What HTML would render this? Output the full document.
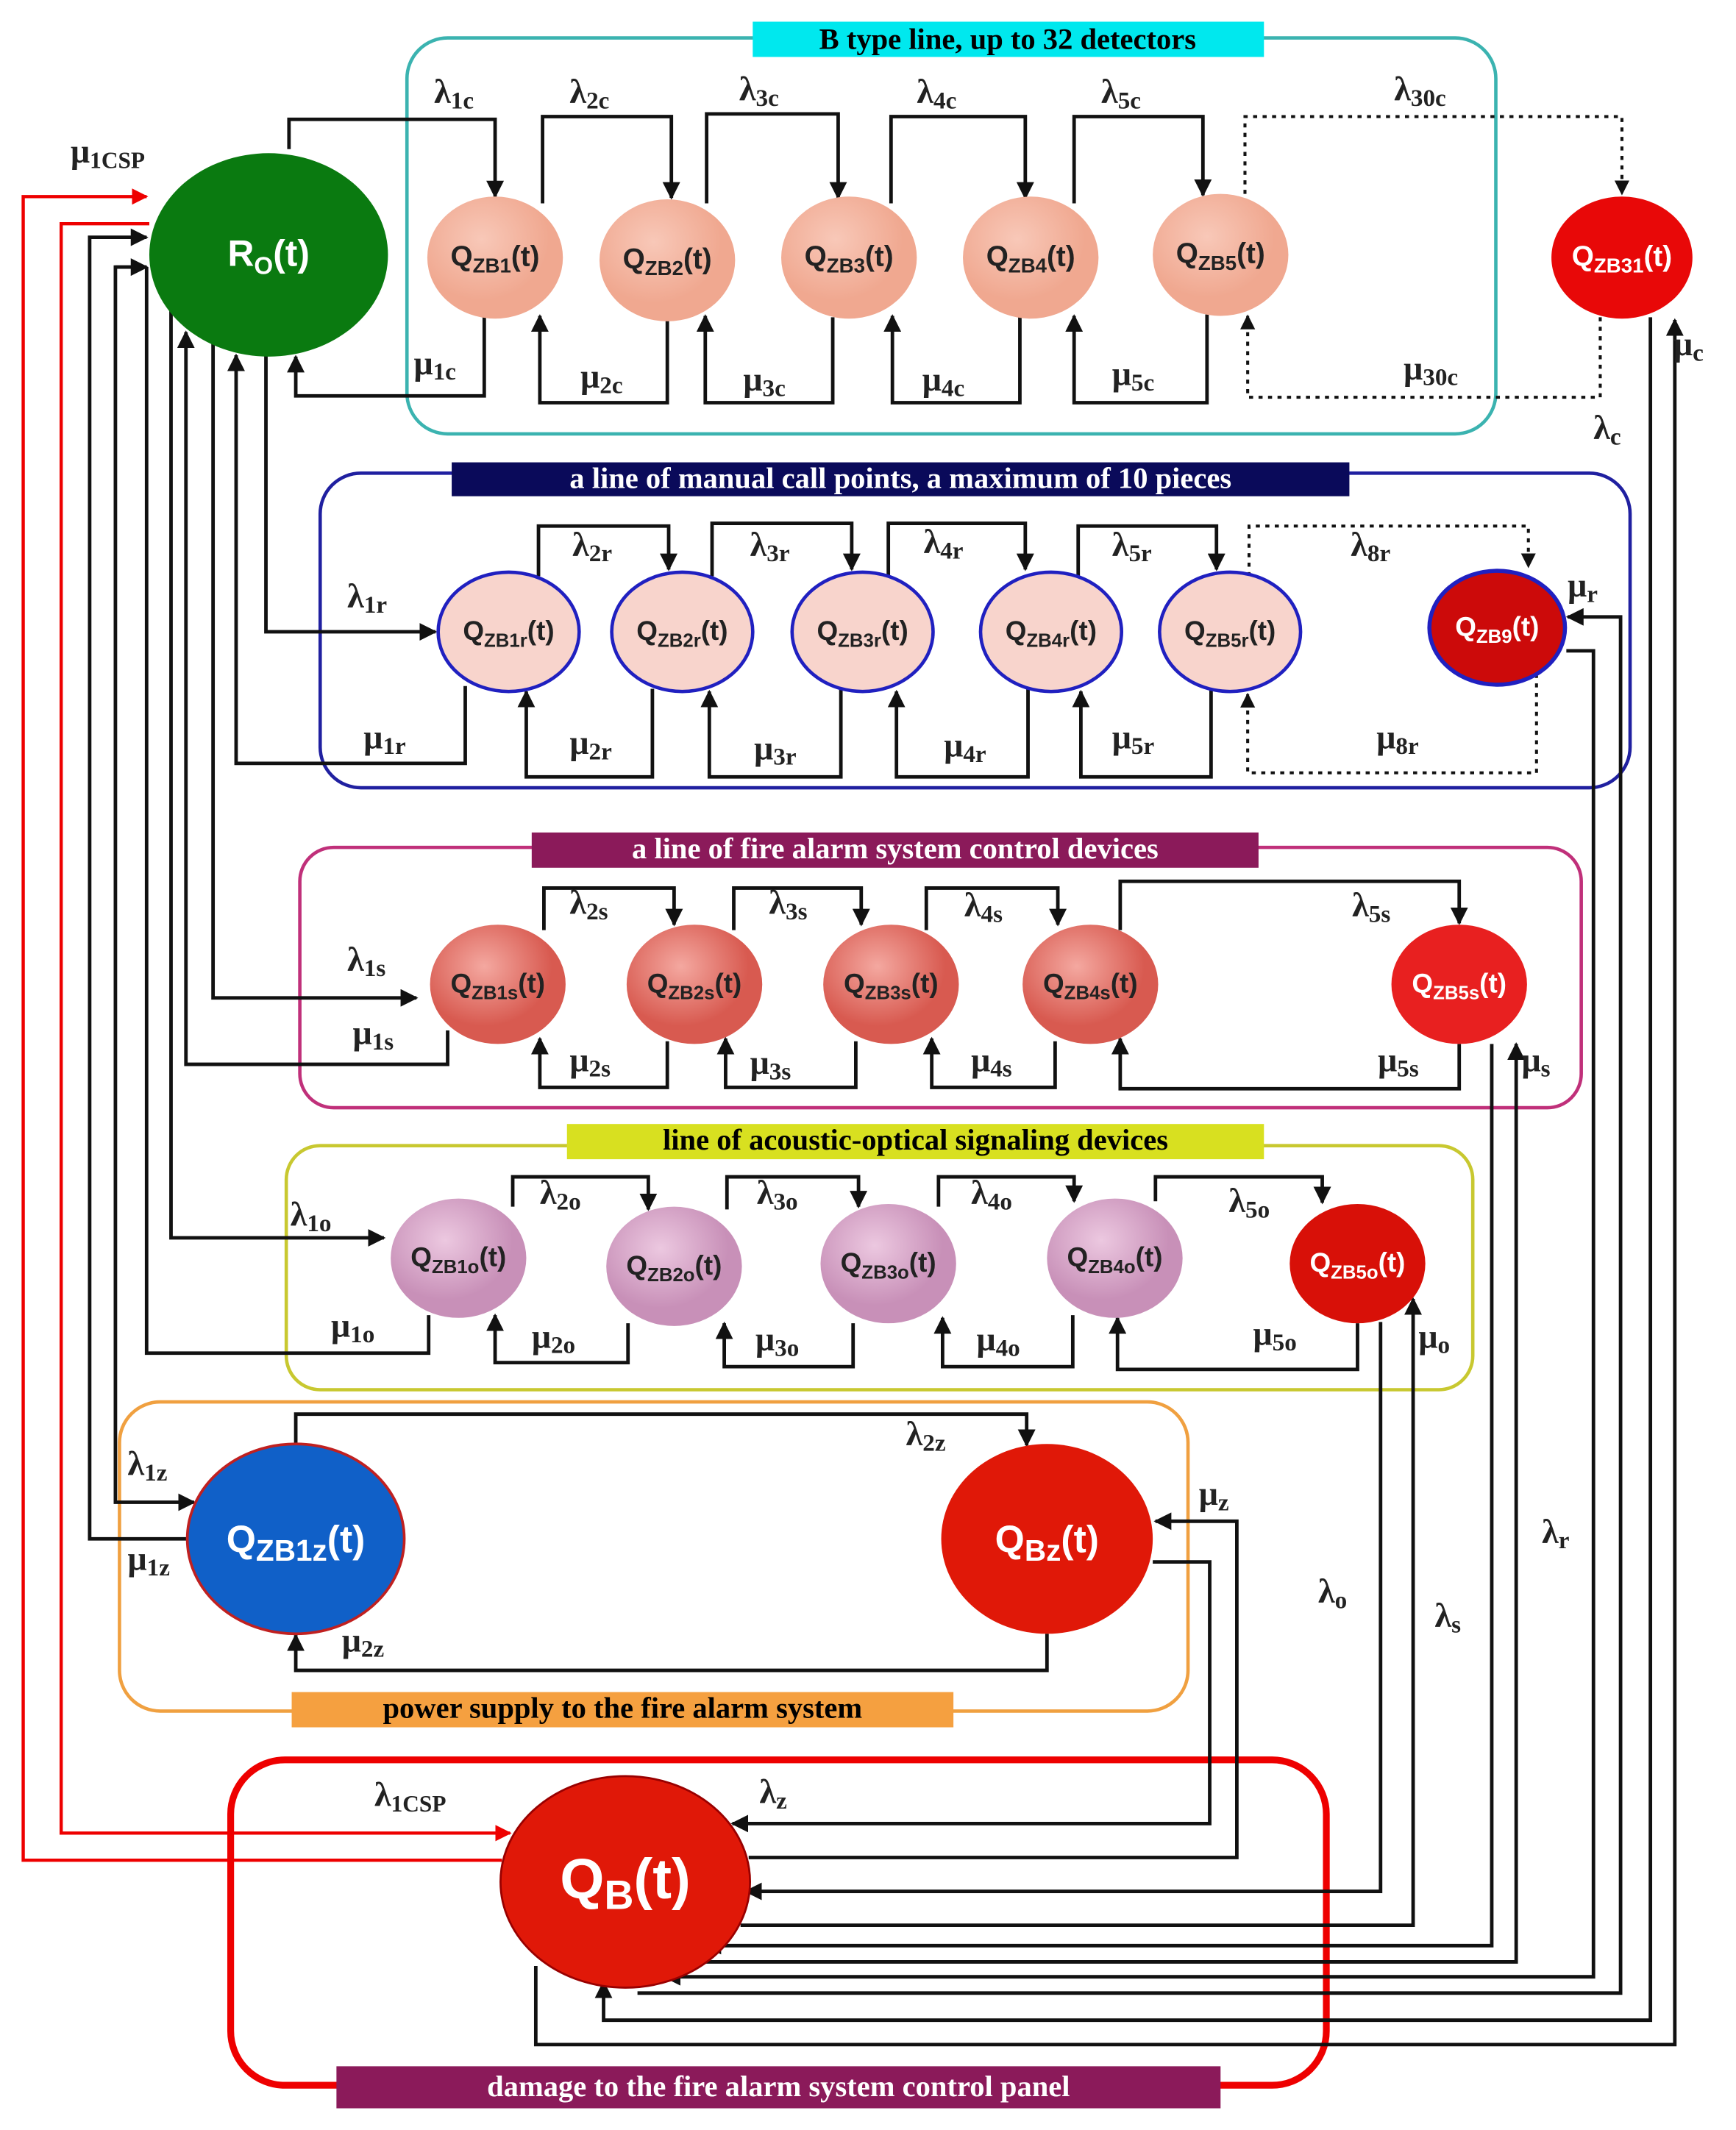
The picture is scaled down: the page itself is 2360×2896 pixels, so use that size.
<!DOCTYPE html>
<html><head><meta charset="utf-8"><style>
html,body{margin:0;padding:0;background:#fff}
svg{display:block}
.l{font-family:"Liberation Serif",serif;font-weight:bold;font-size:25px;fill:#222}
.n{font-family:"Liberation Sans",sans-serif;font-weight:bold;fill:#222}
.w{fill:#fff}
.t{font-family:"Liberation Serif",serif;font-weight:bold;font-size:22px}
.c{fill:none;stroke:#111;stroke-width:2.6}
.d{fill:none;stroke:#111;stroke-width:2.2;stroke-dasharray:3 4}
.r{fill:none;stroke:#e00;stroke-width:2.4}
</style></head><body>
<svg width="2360" height="2896" viewBox="0 0 1280 1571" xmlns="http://www.w3.org/2000/svg">
<defs>
<marker id="a" viewBox="0 0 10 10" refX="9" refY="5" markerWidth="5" markerHeight="5" orient="auto"><path d="M0,0L10,5L0,10z" fill="#111"/></marker>
<marker id="ar" viewBox="0 0 10 10" refX="9" refY="5" markerWidth="5" markerHeight="5" orient="auto"><path d="M0,0L10,5L0,10z" fill="#e00"/></marker>
<radialGradient id="gp" cx="40%" cy="35%"><stop offset="0" stop-color="#f8c8b8"/><stop offset="1" stop-color="#f0a890"/></radialGradient>
<radialGradient id="gs" cx="40%" cy="35%"><stop offset="0" stop-color="#f4a8a0"/><stop offset="1" stop-color="#d85a50"/></radialGradient>
<radialGradient id="go" cx="40%" cy="35%"><stop offset="0" stop-color="#ecc8e0"/><stop offset="1" stop-color="#c890b8"/></radialGradient>
</defs>

<rect x="300" y="28" width="803" height="292" rx="30" fill="none" stroke="#3bb3b0" stroke-width="2.5"/>
<rect x="236" y="349" width="966" height="232" rx="30" fill="none" stroke="#2020a0" stroke-width="2.5"/>
<rect x="221" y="625" width="945" height="192" rx="25" fill="none" stroke="#c0307a" stroke-width="2.5"/>
<rect x="211" y="845" width="875" height="180" rx="25" fill="none" stroke="#c8c830" stroke-width="2.5"/>
<rect x="88" y="1034" width="788" height="228" rx="30" fill="none" stroke="#f0a040" stroke-width="2.5"/>
<rect x="170" y="1298" width="808" height="240" rx="40" fill="none" stroke="#e00" stroke-width="5"/>

<rect x="555" y="16" width="377" height="26" fill="#00e8ee"/><text x="743" y="36" class="t" text-anchor="middle">B type line, up to 32 detectors</text>
<rect x="333" y="341" width="662" height="25" fill="#0a0a5a"/><text x="664" y="360" class="t w" text-anchor="middle">a line of manual call points, a maximum of 10 pieces</text>
<rect x="392" y="614" width="536" height="26" fill="#8b1a5a"/><text x="660" y="633" class="t w" text-anchor="middle">a line of fire alarm system control devices</text>
<rect x="418" y="829" width="514" height="26" fill="#d8e020"/><text x="675" y="848" class="t" text-anchor="middle">line of acoustic-optical signaling devices</text>
<rect x="215" y="1248" width="488" height="26" fill="#f5a040"/><text x="459" y="1267" class="t" text-anchor="middle">power supply to the fire alarm system</text>
<rect x="248" y="1524" width="652" height="31" fill="#8b1a5a"/><text x="574" y="1546" class="t w" text-anchor="middle">damage to the fire alarm system control panel</text>

<polyline class="r" points="110,165 45,165 45,1352 376,1352" marker-end="url(#ar)"/>
<polyline class="r" points="370,1372 17,1372 17,145 108,145" marker-end="url(#ar)"/>

<polyline class="c" points="213,110 213,88 365,88 365,145" marker-end="url(#a)"/>
<polyline class="c" points="400,150 400,86 495,86 495,146" marker-end="url(#a)"/>
<polyline class="c" points="521,150 521,84 618,84 618,146" marker-end="url(#a)"/>
<polyline class="c" points="657,150 657,86 756,86 756,146" marker-end="url(#a)"/>
<polyline class="c" points="792,150 792,86 887,86 887,144" marker-end="url(#a)"/>
<polyline class="d" points="918,150 918,86 1196,86 1196,143" marker-end="url(#a)"/>
<polyline class="c" points="357,234 357,292 218,292 218,263" marker-end="url(#a)"/>
<polyline class="c" points="492,236 492,297 398,297 398,233" marker-end="url(#a)"/>
<polyline class="c" points="614,234 614,297 520,297 520,233" marker-end="url(#a)"/>
<polyline class="c" points="752,234 752,297 658,297 658,233" marker-end="url(#a)"/>
<polyline class="c" points="890,232 890,297 792,297 792,233" marker-end="url(#a)"/>
<polyline class="d" points="1180,234 1180,293 920,293 920,233" marker-end="url(#a)"/>

<polyline class="c" points="196,262 196,466 321,466" marker-end="url(#a)"/>
<polyline class="c" points="397,425 397,388 493,388 493,420" marker-end="url(#a)"/>
<polyline class="c" points="525,425 525,386 628,386 628,420" marker-end="url(#a)"/>
<polyline class="c" points="655,425 655,386 756,386 756,420" marker-end="url(#a)"/>
<polyline class="c" points="795,425 795,388 897,388 897,420" marker-end="url(#a)"/>
<polyline class="d" points="921,425 921,388 1127,388 1127,418" marker-end="url(#a)"/>
<polyline class="c" points="343,506 343,563 174,563 174,262" marker-end="url(#a)"/>
<polyline class="c" points="481,508 481,573 388,573 388,510" marker-end="url(#a)"/>
<polyline class="c" points="620,508 620,573 523,573 523,510" marker-end="url(#a)"/>
<polyline class="c" points="758,508 758,573 661,573 661,510" marker-end="url(#a)"/>
<polyline class="c" points="893,508 893,573 797,573 797,510" marker-end="url(#a)"/>
<polyline class="d" points="1133,497 1133,570 920,570 920,512" marker-end="url(#a)"/>

<polyline class="c" points="157,250 157,736 307,736" marker-end="url(#a)"/>
<polyline class="c" points="330,760 330,785 137,785 137,245" marker-end="url(#a)"/>
<polyline class="c" points="401,686 401,655 497,655 497,682" marker-end="url(#a)"/>
<polyline class="c" points="541,686 541,655 635,655 635,682" marker-end="url(#a)"/>
<polyline class="c" points="683,686 683,655 780,655 780,682" marker-end="url(#a)"/>
<polyline class="c" points="826,686 826,650 1076,650 1076,681" marker-end="url(#a)"/>
<polyline class="c" points="492,768 492,802 398,802 398,766" marker-end="url(#a)"/>
<polyline class="c" points="631,768 631,802 535,802 535,766" marker-end="url(#a)"/>
<polyline class="c" points="778,768 778,802 687,802 687,766" marker-end="url(#a)"/>
<polyline class="c" points="1076,770 1076,803 826,803 826,766" marker-end="url(#a)"/>

<polyline class="c" points="126,200 126,913 283,913" marker-end="url(#a)"/>
<polyline class="c" points="316,970 316,998 108,998 108,197" />
<polyline class="c" points="378,890 378,868 478,868 478,892" marker-end="url(#a)"/>
<polyline class="c" points="536,892 536,868 633,868 633,890" marker-end="url(#a)"/>
<polyline class="c" points="692,890 692,868 792,868 792,886" marker-end="url(#a)"/>
<polyline class="c" points="852,886 852,868 975,868 975,887" marker-end="url(#a)"/>
<polyline class="c" points="463,976 463,1005 365,1005 365,970" marker-end="url(#a)"/>
<polyline class="c" points="629,976 629,1008 534,1008 534,976" marker-end="url(#a)"/>
<polyline class="c" points="791,970 791,1008 695,1008 695,972" marker-end="url(#a)"/>
<polyline class="c" points="1001,976 1001,1010 824,1010 824,972" marker-end="url(#a)"/>

<polyline class="c" points="108,197 85,197 85,1108 143,1108" marker-end="url(#a)"/>
<polyline class="c" points="140,1135 66,1135 66,175 108,175" marker-end="url(#a)"/>
<polyline class="c" points="85,197 108,197" marker-end="url(#a)"/>
<polyline class="c" points="218,1066 218,1043 757,1043 757,1066" marker-end="url(#a)"/>
<polyline class="c" points="772,1205 772,1232 218,1232 218,1206" marker-end="url(#a)"/>

<polyline class="c" points="850,1152 892,1152 892,1345 540,1345" marker-end="url(#a)"/>
<polyline class="c" points="552,1370 912,1370 912,1122 852,1122" marker-end="url(#a)"/>
<polyline class="c" points="1018,975 1018,1395 550,1395" marker-end="url(#a)"/>
<polyline class="c" points="546,1420 1042,1420 1042,958" marker-end="url(#a)"/>
<polyline class="c" points="1100,770 1100,1435 520,1435" marker-end="url(#a)"/>
<polyline class="c" points="505,1447 1118,1447 1118,770" marker-end="url(#a)"/>
<polyline class="c" points="1155,480 1175,480 1175,1458 490,1458" marker-end="url(#a)"/>
<polyline class="c" points="470,1470 1195,1470 1195,455 1156,455" marker-end="url(#a)"/>
<polyline class="c" points="1217,234 1217,1490 445,1490 445,1462" marker-end="url(#a)"/>
<polyline class="c" points="395,1450 395,1508 1235,1508 1235,236" marker-end="url(#a)"/>

<ellipse cx="198" cy="188" rx="88" ry="75" fill="#0a7a10"/>
<text x="198" y="196" class="n w" style="font-size:27px" text-anchor="middle">R<tspan style="font-size:18px" dy="6">O</tspan><tspan dy="-6">(t)</tspan></text>

<g fill="url(#gp)">
<ellipse cx="365" cy="190" rx="50" ry="45"/><ellipse cx="492" cy="192" rx="50" ry="45"/><ellipse cx="626" cy="190" rx="50" ry="45"/><ellipse cx="760" cy="190" rx="50" ry="45"/><ellipse cx="900" cy="188" rx="50" ry="45"/>
</g>
<ellipse cx="1196" cy="190" rx="52" ry="45" fill="#e80808"/>
<g class="n" style="font-size:21px" text-anchor="middle">
<text x="365" y="196">Q<tspan style="font-size:15px" dy="5">ZB1</tspan><tspan dy="-5">(t)</tspan></text>
<text x="492" y="198">Q<tspan style="font-size:15px" dy="5">ZB2</tspan><tspan dy="-5">(t)</tspan></text>
<text x="626" y="196">Q<tspan style="font-size:15px" dy="5">ZB3</tspan><tspan dy="-5">(t)</tspan></text>
<text x="760" y="196">Q<tspan style="font-size:15px" dy="5">ZB4</tspan><tspan dy="-5">(t)</tspan></text>
<text x="900" y="194">Q<tspan style="font-size:15px" dy="5">ZB5</tspan><tspan dy="-5">(t)</tspan></text>
<text x="1196" y="196" class="w">Q<tspan style="font-size:15px" dy="5">ZB31</tspan><tspan dy="-5">(t)</tspan></text>
</g>

<g fill="#f8d4cc" stroke="#2020c0" stroke-width="2.5">
<ellipse cx="375" cy="466" rx="52" ry="44"/><ellipse cx="503" cy="466" rx="52" ry="44"/><ellipse cx="636" cy="466" rx="52" ry="44"/><ellipse cx="775" cy="466" rx="52" ry="44"/><ellipse cx="907" cy="466" rx="52" ry="44"/>
</g>
<ellipse cx="1104" cy="463" rx="50" ry="42" fill="#cc0a0a" stroke="#2020c0" stroke-width="3"/>
<g class="n" style="font-size:20px" text-anchor="middle">
<text x="375" y="472">Q<tspan style="font-size:14px" dy="5">ZB1r</tspan><tspan dy="-5">(t)</tspan></text>
<text x="503" y="472">Q<tspan style="font-size:14px" dy="5">ZB2r</tspan><tspan dy="-5">(t)</tspan></text>
<text x="636" y="472">Q<tspan style="font-size:14px" dy="5">ZB3r</tspan><tspan dy="-5">(t)</tspan></text>
<text x="775" y="472">Q<tspan style="font-size:14px" dy="5">ZB4r</tspan><tspan dy="-5">(t)</tspan></text>
<text x="907" y="472">Q<tspan style="font-size:14px" dy="5">ZB5r</tspan><tspan dy="-5">(t)</tspan></text>
<text x="1104" y="469" class="w">Q<tspan style="font-size:14px" dy="5">ZB9</tspan><tspan dy="-5">(t)</tspan></text>
</g>

<g fill="url(#gs)">
<ellipse cx="367" cy="726" rx="50" ry="44"/><ellipse cx="512" cy="726" rx="50" ry="44"/><ellipse cx="657" cy="726" rx="50" ry="44"/><ellipse cx="804" cy="726" rx="50" ry="44"/>
</g>
<ellipse cx="1076" cy="726" rx="50" ry="44" fill="#e82020"/>
<g class="n" style="font-size:20px" text-anchor="middle">
<text x="367" y="732">Q<tspan style="font-size:14px" dy="5">ZB1s</tspan><tspan dy="-5">(t)</tspan></text>
<text x="512" y="732">Q<tspan style="font-size:14px" dy="5">ZB2s</tspan><tspan dy="-5">(t)</tspan></text>
<text x="657" y="732">Q<tspan style="font-size:14px" dy="5">ZB3s</tspan><tspan dy="-5">(t)</tspan></text>
<text x="804" y="732">Q<tspan style="font-size:14px" dy="5">ZB4s</tspan><tspan dy="-5">(t)</tspan></text>
<text x="1076" y="732" class="w">Q<tspan style="font-size:14px" dy="5">ZB5s</tspan><tspan dy="-5">(t)</tspan></text>
</g>

<g fill="url(#go)">
<ellipse cx="338" cy="928" rx="50" ry="44"/><ellipse cx="497" cy="934" rx="50" ry="44"/><ellipse cx="655" cy="932" rx="50" ry="44"/><ellipse cx="822" cy="928" rx="50" ry="44"/>
</g>
<ellipse cx="1001" cy="932" rx="50" ry="44" fill="#d81008"/>
<g class="n" style="font-size:20px" text-anchor="middle">
<text x="338" y="934">Q<tspan style="font-size:14px" dy="5">ZB1o</tspan><tspan dy="-5">(t)</tspan></text>
<text x="497" y="940">Q<tspan style="font-size:14px" dy="5">ZB2o</tspan><tspan dy="-5">(t)</tspan></text>
<text x="655" y="938">Q<tspan style="font-size:14px" dy="5">ZB3o</tspan><tspan dy="-5">(t)</tspan></text>
<text x="822" y="934">Q<tspan style="font-size:14px" dy="5">ZB4o</tspan><tspan dy="-5">(t)</tspan></text>
<text x="1001" y="938" class="w">Q<tspan style="font-size:14px" dy="5">ZB5o</tspan><tspan dy="-5">(t)</tspan></text>
</g>

<ellipse cx="218" cy="1135" rx="80" ry="70" fill="#1060c8" stroke="#c02020" stroke-width="2"/>
<text x="218" y="1145" class="n w" style="font-size:28px" text-anchor="middle">Q<tspan style="font-size:22px" dy="6">ZB1z</tspan><tspan dy="-6">(t)</tspan></text>
<ellipse cx="772" cy="1135" rx="78" ry="70" fill="#e01808"/>
<text x="772" y="1145" class="n w" style="font-size:28px" text-anchor="middle">Q<tspan style="font-size:22px" dy="6">Bz</tspan><tspan dy="-6">(t)</tspan></text>
<ellipse cx="461" cy="1388" rx="92" ry="78" fill="#e01808" stroke="#900" stroke-width="1.5"/>
<text x="461" y="1400" class="n w" style="font-size:42px" text-anchor="middle">Q<tspan style="font-size:30px" dy="8">B</tspan><tspan dy="-8">(t)</tspan></text>

<g class="l">
<text x="52" y="120">μ<tspan style="font-size:17px" dy="4">1CSP</tspan></text>
<text x="320" y="76">λ<tspan style="font-size:18px" dy="4">1c</tspan></text>
<text x="420" y="76">λ<tspan style="font-size:18px" dy="4">2c</tspan></text>
<text x="545" y="74">λ<tspan style="font-size:18px" dy="4">3c</tspan></text>
<text x="676" y="76">λ<tspan style="font-size:18px" dy="4">4c</tspan></text>
<text x="812" y="76">λ<tspan style="font-size:18px" dy="4">5c</tspan></text>
<text x="1028" y="74">λ<tspan style="font-size:18px" dy="4">30c</tspan></text>
<text x="305" y="276">μ<tspan style="font-size:18px" dy="4">1c</tspan></text>
<text x="428" y="286">μ<tspan style="font-size:18px" dy="4">2c</tspan></text>
<text x="548" y="288">μ<tspan style="font-size:18px" dy="4">3c</tspan></text>
<text x="680" y="288">μ<tspan style="font-size:18px" dy="4">4c</tspan></text>
<text x="820" y="284">μ<tspan style="font-size:18px" dy="4">5c</tspan></text>
<text x="1035" y="280">μ<tspan style="font-size:18px" dy="4">30c</tspan></text>
<text x="1234" y="262">μ<tspan style="font-size:18px" dy="4">c</tspan></text>
<text x="1175" y="324">λ<tspan style="font-size:18px" dy="4">c</tspan></text>

<text x="256" y="448">λ<tspan style="font-size:18px" dy="4">1r</tspan></text>
<text x="422" y="410">λ<tspan style="font-size:18px" dy="4">2r</tspan></text>
<text x="553" y="410">λ<tspan style="font-size:18px" dy="4">3r</tspan></text>
<text x="681" y="408">λ<tspan style="font-size:18px" dy="4">4r</tspan></text>
<text x="820" y="410">λ<tspan style="font-size:18px" dy="4">5r</tspan></text>
<text x="996" y="410">λ<tspan style="font-size:18px" dy="4">8r</tspan></text>
<text x="1156" y="440">μ<tspan style="font-size:18px" dy="4">r</tspan></text>
<text x="268" y="552">μ<tspan style="font-size:18px" dy="4">1r</tspan></text>
<text x="420" y="556">μ<tspan style="font-size:18px" dy="4">2r</tspan></text>
<text x="556" y="560">μ<tspan style="font-size:18px" dy="4">3r</tspan></text>
<text x="696" y="558">μ<tspan style="font-size:18px" dy="4">4r</tspan></text>
<text x="820" y="552">μ<tspan style="font-size:18px" dy="4">5r</tspan></text>
<text x="1015" y="552">μ<tspan style="font-size:18px" dy="4">8r</tspan></text>

<text x="256" y="716">λ<tspan style="font-size:18px" dy="4">1s</tspan></text>
<text x="420" y="674">λ<tspan style="font-size:18px" dy="4">2s</tspan></text>
<text x="567" y="674">λ<tspan style="font-size:18px" dy="4">3s</tspan></text>
<text x="711" y="676">λ<tspan style="font-size:18px" dy="4">4s</tspan></text>
<text x="997" y="676">λ<tspan style="font-size:18px" dy="4">5s</tspan></text>
<text x="260" y="770">μ<tspan style="font-size:18px" dy="4">1s</tspan></text>
<text x="420" y="790">μ<tspan style="font-size:18px" dy="4">2s</tspan></text>
<text x="553" y="792">μ<tspan style="font-size:18px" dy="4">3s</tspan></text>
<text x="716" y="790">μ<tspan style="font-size:18px" dy="4">4s</tspan></text>
<text x="1016" y="790">μ<tspan style="font-size:18px" dy="4">5s</tspan></text>
<text x="1122" y="790">μ<tspan style="font-size:18px" dy="4">s</tspan></text>

<text x="214" y="904">λ<tspan style="font-size:18px" dy="4">1o</tspan></text>
<text x="398" y="888">λ<tspan style="font-size:18px" dy="4">2o</tspan></text>
<text x="558" y="888">λ<tspan style="font-size:18px" dy="4">3o</tspan></text>
<text x="716" y="888">λ<tspan style="font-size:18px" dy="4">4o</tspan></text>
<text x="906" y="894">λ<tspan style="font-size:18px" dy="4">5o</tspan></text>
<text x="244" y="986">μ<tspan style="font-size:18px" dy="4">1o</tspan></text>
<text x="392" y="994">μ<tspan style="font-size:18px" dy="4">2o</tspan></text>
<text x="557" y="996">μ<tspan style="font-size:18px" dy="4">3o</tspan></text>
<text x="720" y="996">μ<tspan style="font-size:18px" dy="4">4o</tspan></text>
<text x="924" y="992">μ<tspan style="font-size:18px" dy="4">5o</tspan></text>
<text x="1046" y="994">μ<tspan style="font-size:18px" dy="4">o</tspan></text>

<text x="94" y="1088">λ<tspan style="font-size:18px" dy="4">1z</tspan></text>
<text x="94" y="1158">μ<tspan style="font-size:18px" dy="4">1z</tspan></text>
<text x="668" y="1066">λ<tspan style="font-size:18px" dy="4">2z</tspan></text>
<text x="252" y="1218">μ<tspan style="font-size:18px" dy="4">2z</tspan></text>
<text x="884" y="1110">μ<tspan style="font-size:18px" dy="4">z</tspan></text>
<text x="276" y="1332">λ<tspan style="font-size:17px" dy="4">1CSP</tspan></text>
<text x="560" y="1330">λ<tspan style="font-size:18px" dy="4">z</tspan></text>
<text x="972" y="1182">λ<tspan style="font-size:18px" dy="4">o</tspan></text>
<text x="1058" y="1200">λ<tspan style="font-size:18px" dy="4">s</tspan></text>
<text x="1137" y="1138">λ<tspan style="font-size:18px" dy="4">r</tspan></text>
</g>
</svg>
</body></html>
